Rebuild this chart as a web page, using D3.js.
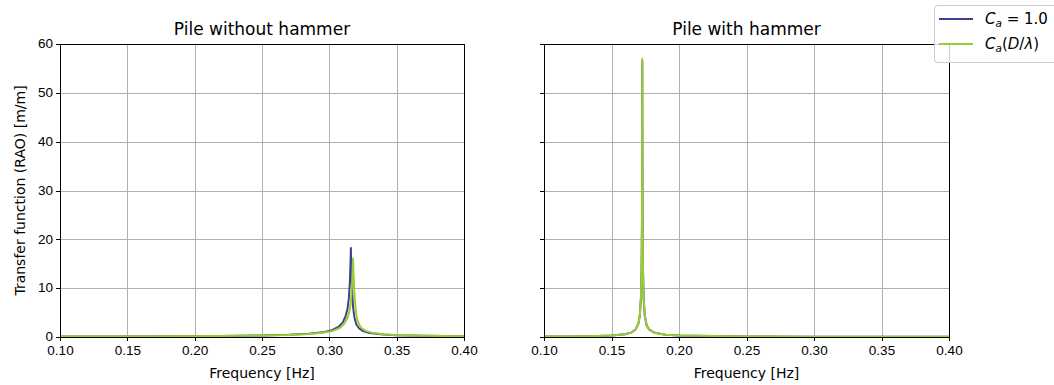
<!DOCTYPE html>
<html>
<meta charset="utf-8">
<style>
body {
  margin: 0;
  background: #fff;
  font-family: "DejaVu Sans", sans-serif;
}
.axis path,
.axis line {
  stroke: #000;
  shape-rendering: crispEdges;
}
.axis text {
  font-size: 13.5px;
  fill: #000;
}
.grid line {
  stroke: #b0b0b0;
  stroke-width: 1;
  shape-rendering: crispEdges;
}
.grid path {
  display: none;
}
</style>
<body>
<script src="https://d3js.org/d3.v7.min.js"></script>
<script>
// tick values
var xTicks = [0.10, 0.15, 0.20, 0.25, 0.30, 0.35, 0.40];
var yTicks = [0, 10, 20, 30, 40, 50, 60];
var titles = ["Pile without hammer", "Pile with hammer"];

// pile without hammer, Ca = 1.0
var freqNoHamBlue = [0.10, 0.14, 0.18, 0.22, 0.25, 0.27, 0.285, 0.295, 0.302, 0.307, 0.310, 0.312, 0.3135, 0.3145, 0.3152, 0.3157, 0.316, 0.3163, 0.3168, 0.3175, 0.3185, 0.320, 0.322, 0.325, 0.33, 0.34, 0.35, 0.37, 0.40];
var raoNoHamBlue  = [0.1, 0.12, 0.15, 0.22, 0.32, 0.45, 0.65, 0.95, 1.4, 2.1, 3.0, 4.2, 5.8, 8.0, 11, 15, 18.2, 15, 10, 6.5, 4.2, 2.6, 1.8, 1.2, 0.8, 0.5, 0.35, 0.25, 0.15];
// pile without hammer, Ca(D/lambda)
var freqNoHamGreen = [0.10, 0.14, 0.18, 0.22, 0.25, 0.27, 0.285, 0.295, 0.302, 0.308, 0.311, 0.3135, 0.315, 0.316, 0.3168, 0.3173, 0.3176, 0.3179, 0.3185, 0.3193, 0.3203, 0.322, 0.324, 0.327, 0.332, 0.34, 0.35, 0.37, 0.40];
var raoNoHamGreen  = [0.1, 0.12, 0.15, 0.21, 0.3, 0.42, 0.6, 0.85, 1.2, 1.9, 2.7, 3.9, 5.4, 7.4, 10.5, 13.8, 16.0, 13.5, 9.5, 6.2, 4.1, 2.6, 1.8, 1.25, 0.85, 0.55, 0.38, 0.25, 0.15];
// pile with hammer, both
var freqHamBlue = [0.10, 0.12, 0.14, 0.15, 0.16, 0.165, 0.168, 0.170, 0.171, 0.1718, 0.1723, 0.1726, 0.1728, 0.1730, 0.1733, 0.1738, 0.1746, 0.176, 0.178, 0.182, 0.19, 0.20, 0.25, 0.30, 0.35, 0.40];
var raoHamBlue  = [0.08, 0.12, 0.2, 0.3, 0.55, 0.95, 1.6, 2.8, 4.5, 8, 14, 25, 56.5, 25, 14, 8, 4.5, 2.4, 1.5, 0.85, 0.45, 0.3, 0.12, 0.06, 0.04, 0.03];
var freqHamGreen = [0.10, 0.12, 0.14, 0.15, 0.16, 0.165, 0.168, 0.170, 0.171, 0.1718, 0.1723, 0.1726, 0.1728, 0.1730, 0.1733, 0.1738, 0.1746, 0.176, 0.178, 0.182, 0.19, 0.20, 0.25, 0.30, 0.35, 0.40];
var raoHamGreen  = [0.08, 0.12, 0.2, 0.3, 0.55, 0.95, 1.6, 2.8, 4.5, 8, 14, 25, 57, 25, 14, 8, 4.5, 2.4, 1.5, 0.85, 0.45, 0.3, 0.12, 0.06, 0.04, 0.03];

var blue = "#3f4290", green = "#9acd32";

var W = 1054, H = 385;
var yTop = 44, yBot = 337;
var panels = [
  {x0: 60, x1: 464, title: titles[0], showY: true,
   series: [{f: freqNoHamBlue, v: raoNoHamBlue, c: blue}, {f: freqNoHamGreen, v: raoNoHamGreen, c: green}]},
  {x0: 544, x1: 949, title: titles[1], showY: false,
   series: [{f: freqHamBlue, v: raoHamBlue, c: blue}, {f: freqHamGreen, v: raoHamGreen, c: green}]}
];

var svg = d3.select("body").append("svg")
    .attr("width", W)
    .attr("height", H);

var yScale = d3.scaleLinear().domain([0, 60]).range([yBot, yTop]);

panels.forEach(function(p, i) {
  var xScale = d3.scaleLinear().domain([0.1, 0.4]).range([p.x0, p.x1]);
  var g = svg.append("g");

  // grid
  g.append("g").attr("class", "grid")
      .attr("transform", "translate(0," + yBot + ")")
      .call(d3.axisBottom(xScale).tickValues(xTicks).tickSize(-(yBot - yTop)).tickFormat(""));
  g.append("g").attr("class", "grid")
      .attr("transform", "translate(" + p.x0 + ",0)")
      .call(d3.axisLeft(yScale).tickValues(yTicks).tickSize(-(p.x1 - p.x0)).tickFormat(""));

  // clip
  svg.append("clipPath").attr("id", "clip" + i)
    .append("rect").attr("x", p.x0).attr("y", yTop)
    .attr("width", p.x1 - p.x0).attr("height", yBot - yTop);

  var line = d3.line()
      .x(function(d) { return xScale(d[0]); })
      .y(function(d) { return yScale(d[1]); });

  p.series.forEach(function(s) {
    g.append("path")
      .datum(d3.zip(s.f, s.v))
      .attr("clip-path", "url(#clip" + i + ")")
      .attr("fill", "none")
      .attr("stroke", s.c)
      .attr("stroke-width", 2)
      .attr("stroke-linejoin", "round")
      .attr("d", line);
  });

  // frame
  g.append("rect")
    .attr("x", p.x0 + 0.5).attr("y", yTop + 0.5)
    .attr("width", p.x1 - p.x0).attr("height", yBot - yTop)
    .attr("fill", "none").attr("stroke", "#000").attr("stroke-width", 1);

  // axes
  var xa = g.append("g").attr("class", "axis")
      .attr("transform", "translate(0," + yBot + ")")
      .call(d3.axisBottom(xScale).tickValues(xTicks).tickSize(4).tickPadding(4).tickFormat(d3.format(".2f")));
  xa.select(".domain").remove();

  var ya = g.append("g").attr("class", "axis")
      .attr("transform", "translate(" + p.x0 + ",0)")
      .call(d3.axisLeft(yScale).tickValues(yTicks).tickSize(4).tickPadding(3)
        .tickFormat(p.showY ? d3.format("d") : ""));
  ya.select(".domain").remove();
  ya.selectAll("text").attr("dy", "0.28em");

  // title
  g.append("text")
    .attr("x", (p.x0 + p.x1) / 2)
    .attr("y", 35)
    .attr("text-anchor", "middle")
    .style("font-size", "17px")
    .text(p.title);

  // x label
  g.append("text")
    .attr("x", (p.x0 + p.x1) / 2)
    .attr("y", 378)
    .attr("text-anchor", "middle")
    .style("font-size", "14px")
    .text("Frequency [Hz]");
});

// y label
svg.append("text")
  .attr("transform", "translate(25," + ((yTop + yBot) / 2) + ") rotate(-90)")
  .attr("text-anchor", "middle")
  .style("font-size", "14px")
  .text("Transfer function (RAO) [m/m]");

// legend
var legend = svg.append("g");
legend.append("rect")
  .attr("x", 934.5).attr("y", 5.5)
  .attr("width", 130).attr("height", 57)
  .attr("rx", 3)
  .attr("fill", "#fff").attr("fill-opacity", 0.8)
  .attr("stroke", "#ccc");

var legItems = [{c: blue, y: 19, label: "1.0"}, {c: green, y: 44, label: null}];
legItems.forEach(function(d) {
  legend.append("line")
    .attr("x1", 939).attr("x2", 973)
    .attr("y1", d.y).attr("y2", d.y)
    .attr("stroke", d.c).attr("stroke-width", 2);
  var t = legend.append("text")
    .attr("x", 985).attr("y", d.y + 5)
    .style("font-size", "15px");
  t.append("tspan").style("font-style", "italic").text("C");
  t.append("tspan").style("font-style", "italic").style("font-size", "10.5px").attr("dy", 3).text("a");
  if (d.label) {
    t.append("tspan").attr("dy", -3).text(" = 1.0");
  } else {
    t.append("tspan").attr("dy", -3).text("(");
    t.append("tspan").style("font-style", "italic").text("D");
    t.append("tspan").text("/");
    t.append("tspan").style("font-style", "italic").text("λ");
    t.append("tspan").text(")");
  }
});
</script>
</body>
</html>
